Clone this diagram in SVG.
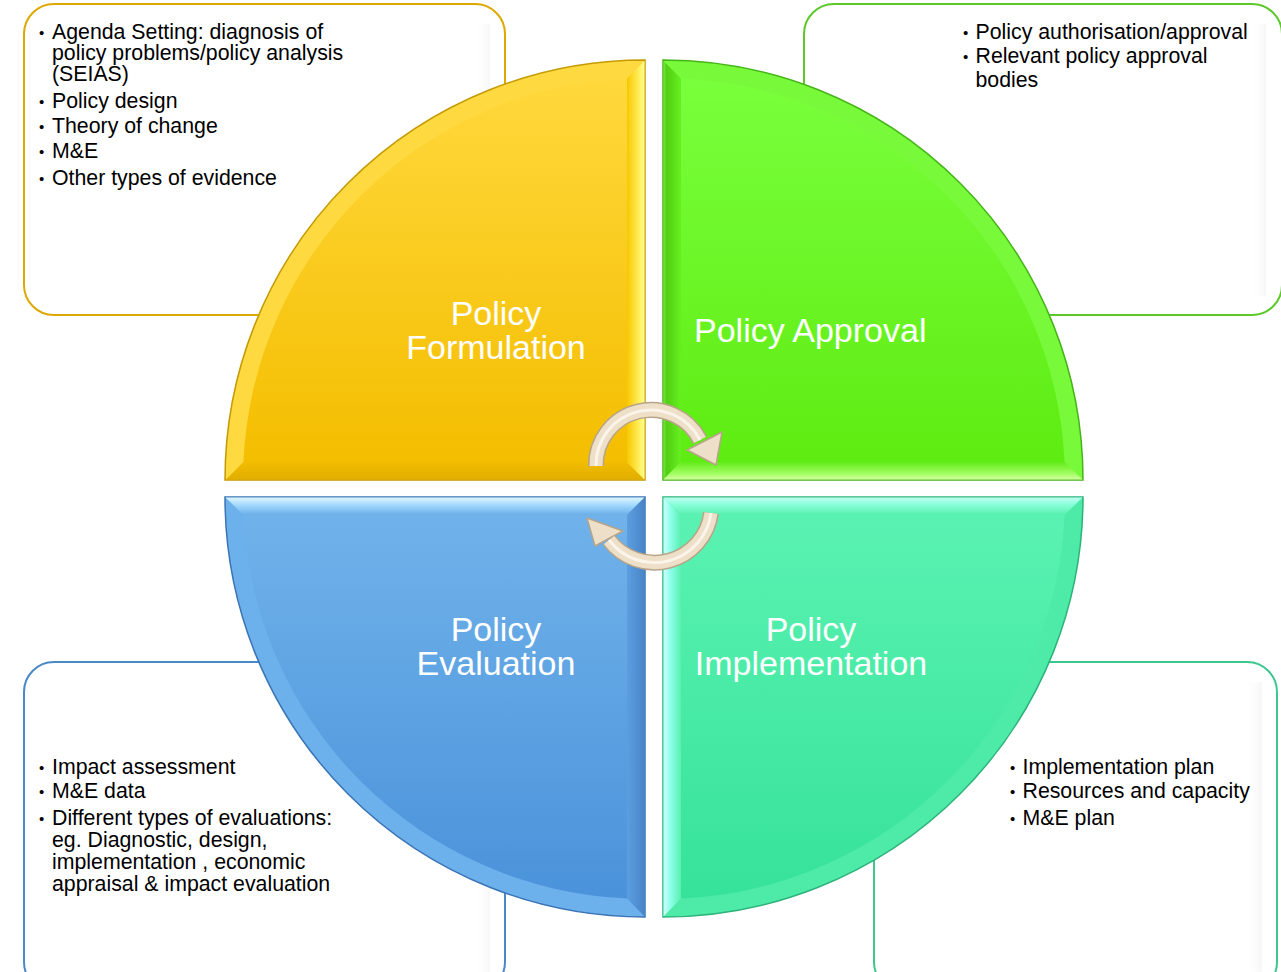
<svg xmlns="http://www.w3.org/2000/svg" width="1281" height="972" viewBox="0 0 1281 972">
<defs>
<linearGradient id="gY" x1="0" y1="0" x2="0" y2="1"><stop offset="0" stop-color="#FFD83C"/><stop offset="1" stop-color="#F4BE00"/></linearGradient>
<linearGradient id="gG" x1="0" y1="0" x2="0" y2="1"><stop offset="0" stop-color="#7AFF3C"/><stop offset="1" stop-color="#5EEC12"/></linearGradient>
<linearGradient id="gT" x1="0" y1="0" x2="0" y2="1"><stop offset="0" stop-color="#5AF2B2"/><stop offset="1" stop-color="#36E29A"/></linearGradient>
<linearGradient id="gB" x1="0" y1="0" x2="0" y2="1"><stop offset="0" stop-color="#70B2EA"/><stop offset="1" stop-color="#4A92DA"/></linearGradient>
<linearGradient id="yR" gradientUnits="userSpaceOnUse" x1="627" y1="0" x2="645" y2="0"><stop offset="0" stop-color="#F8C800"/><stop offset="0.7" stop-color="#FFF060"/><stop offset="1" stop-color="#FFFF9A"/></linearGradient>
<linearGradient id="yB" gradientUnits="userSpaceOnUse" x1="0" y1="462" x2="0" y2="480"><stop offset="0" stop-color="#F2BC00"/><stop offset="1" stop-color="#E0AE00"/></linearGradient>
<linearGradient id="gL" gradientUnits="userSpaceOnUse" x1="681" y1="0" x2="663" y2="0"><stop offset="0" stop-color="#66F020"/><stop offset="0.8" stop-color="#52CF14"/><stop offset="1" stop-color="#7CEB44"/></linearGradient>
<linearGradient id="gBt" gradientUnits="userSpaceOnUse" x1="0" y1="462" x2="0" y2="480"><stop offset="0" stop-color="#62EC18"/><stop offset="0.7" stop-color="#A8FF6A"/><stop offset="1" stop-color="#D8FFA8"/></linearGradient>
<linearGradient id="bT" gradientUnits="userSpaceOnUse" x1="0" y1="515" x2="0" y2="497"><stop offset="0" stop-color="#6AAEE8"/><stop offset="0.6" stop-color="#A8DCFF"/><stop offset="1" stop-color="#E4F8FF"/></linearGradient>
<linearGradient id="bR" gradientUnits="userSpaceOnUse" x1="627" y1="0" x2="645" y2="0"><stop offset="0" stop-color="#5C9EDF"/><stop offset="1" stop-color="#4884C8"/></linearGradient>
<linearGradient id="tT" gradientUnits="userSpaceOnUse" x1="0" y1="515" x2="0" y2="497"><stop offset="0" stop-color="#58F0B0"/><stop offset="0.6" stop-color="#8AFFDA"/><stop offset="1" stop-color="#C4FFF2"/></linearGradient>
<linearGradient id="tL" gradientUnits="userSpaceOnUse" x1="681" y1="0" x2="663" y2="0"><stop offset="0" stop-color="#58F0B0"/><stop offset="0.6" stop-color="#90FFEA"/><stop offset="1" stop-color="#D0FFFF"/></linearGradient>
<linearGradient id="bw" x1="0" y1="0" x2="1" y2="0"><stop offset="0" stop-color="#ffffff" stop-opacity="0"/><stop offset="1" stop-color="#e6e6e6" stop-opacity="1"/></linearGradient>
</defs>
<style>
.box{fill:#ffffff;stroke-width:2}
.txt{font-family:"Liberation Sans",Arial,sans-serif;font-size:21.3px;fill:#000000}
.bul{font-family:"Liberation Sans",Arial,sans-serif;font-size:15px;fill:#000000}
.lbl{font-family:"Liberation Sans",Arial,sans-serif;font-size:34px;fill:#ffffff}
.arr-o{fill:none;stroke:#B8A488;stroke-width:16}
.arr-f{fill:none;stroke:#EEDFC8;stroke-width:13}
.arr-h{fill:none;stroke:#FBF4EA;stroke-width:3}
.head{fill:#EEDFC8;stroke:#B8A488;stroke-width:1.5;stroke-linejoin:round}
.sh{opacity:0.35}
</style>

<g id="box-formulation">
<rect class="box" x="24" y="4" width="481" height="311" rx="30" stroke="#DDA800"/>
<rect class="sh" x="474" y="24" width="16" height="272" fill="url(#bw)"/>
<text class="bul"><tspan x="39" y="38">•</tspan><tspan x="39" y="107">•</tspan><tspan x="39" y="131.5">•</tspan><tspan x="39" y="156.5">•</tspan><tspan x="39" y="184">•</tspan></text>
<text class="txt"><tspan x="52" y="39">Agenda Setting: diagnosis of</tspan><tspan x="52" y="60">policy problems/policy analysis</tspan><tspan x="52" y="81">(SEIAS)</tspan><tspan x="52" y="108">Policy design</tspan><tspan x="52" y="132.5">Theory of change</tspan><tspan x="52" y="157.5">M&amp;E</tspan><tspan x="52" y="185">Other types of evidence</tspan></text>
</g>

<g id="box-approval">
<rect class="box" x="804" y="4" width="478" height="311" rx="30" stroke="#5CC82A"/>
<rect class="sh" x="1250" y="24" width="16" height="272" fill="url(#bw)"/>
<text class="bul"><tspan x="963" y="38">•</tspan><tspan x="963" y="61.5">•</tspan></text>
<text class="txt"><tspan x="975.5" y="39">Policy authorisation/approval</tspan><tspan x="975.5" y="62.5">Relevant policy approval</tspan><tspan x="975.5" y="87">bodies</tspan></text>
</g>

<g id="box-evaluation">
<rect class="box" x="24" y="662" width="481" height="330" rx="30" stroke="#4A88C8"/>
<rect class="sh" x="474" y="682" width="16" height="290" fill="url(#bw)"/>
<text class="bul"><tspan x="39" y="773">•</tspan><tspan x="39" y="796.5">•</tspan><tspan x="39" y="823.5">•</tspan></text>
<text class="txt"><tspan x="52" y="774">Impact assessment</tspan><tspan x="52" y="797.5">M&amp;E data</tspan><tspan x="52" y="824.5">Different types of evaluations:</tspan><tspan x="52" y="846.5">eg. Diagnostic, design,</tspan><tspan x="52" y="868.5">implementation , economic</tspan><tspan x="52" y="890.5">appraisal &amp; impact evaluation</tspan></text>
</g>

<g id="box-implementation">
<rect class="box" x="874" y="662" width="403" height="330" rx="30" stroke="#3CC78E"/>
<rect class="sh" x="1246" y="682" width="16" height="290" fill="url(#bw)"/>
<text class="bul"><tspan x="1010" y="773">•</tspan><tspan x="1010" y="796.5">•</tspan><tspan x="1010" y="823.5">•</tspan></text>
<text class="txt"><tspan x="1022.5" y="774">Implementation plan</tspan><tspan x="1022.5" y="797.5">Resources and capacity</tspan><tspan x="1022.5" y="824.5">M&amp;E plan</tspan></text>
</g>

<g id="quad-formulation">
<path d="M645,480 L225,480 A420,420 0 0 1 645,60 Z" fill="#FFD940" stroke="#C49A00" stroke-width="1.5"/>
<polygon points="226,479.5 644.5,479.5 627,462 243.4,462" fill="url(#yB)"/>
<polygon points="644.5,61 644.5,479.5 627,462 627,78.4" fill="url(#yR)"/>
<path d="M627,462 L243.4,462 A402,402 0 0 1 627,78.4 Z" fill="url(#gY)"/>
<text class="lbl" text-anchor="middle"><tspan x="496" y="325">Policy</tspan><tspan x="496" y="359">Formulation</tspan></text>
</g>

<g id="quad-approval">
<path d="M663,480 L663,60 A420,420 0 0 1 1083,480 Z" fill="#78FA3A" stroke="#46B418" stroke-width="1.5"/>
<polygon points="663.5,61 663.5,479.5 681,462 681,78.4" fill="url(#gL)"/>
<polygon points="663.5,479.5 1082.5,479.5 1064.6,462 681,462" fill="url(#gBt)"/>
<path d="M681,462 L681,78.4 A402,402 0 0 1 1064.6,462 Z" fill="url(#gG)"/>
<text class="lbl" x="694" y="342">Policy Approval</text>
</g>

<g id="quad-implementation">
<path d="M663,497 L1083,497 A420,420 0 0 1 663,917 Z" fill="#4EEAA8" stroke="#2DB27A" stroke-width="1.5"/>
<polygon points="663.5,497.5 1082.5,497.5 1064.6,515 681,515" fill="url(#tT)"/>
<polygon points="663.5,497.5 663.5,916.5 681,898.6 681,515" fill="url(#tL)"/>
<path d="M681,515 L1064.6,515 A402,402 0 0 1 681,898.6 Z" fill="url(#gT)"/>
<text class="lbl" text-anchor="middle"><tspan x="811" y="641">Policy</tspan><tspan x="811" y="675">Implementation</tspan></text>
</g>

<g id="quad-evaluation">
<path d="M645,497 L645,917 A420,420 0 0 1 225,497 Z" fill="#6CB0EC" stroke="#3A74B6" stroke-width="1.5"/>
<polygon points="225.5,497.5 644.5,497.5 627,515 243.4,515" fill="url(#bT)"/>
<polygon points="644.5,497.5 644.5,916.5 627,898.6 627,515" fill="url(#bR)"/>
<path d="M627,515 L627,898.6 A402,402 0 0 1 243.4,515 Z" fill="url(#gB)"/>
<text class="lbl" text-anchor="middle"><tspan x="496" y="641">Policy</tspan><tspan x="496" y="675">Evaluation</tspan></text>
</g>

<g id="connectors">
<path class="arr-o" d="M596,466 A55,55 0 0 1 700,440"/>
<polygon class="head" points="687,450 722,432 716,465"/>
<path class="arr-f" d="M596,466 A55,55 0 0 1 700,440"/>
<path class="arr-h" d="M596,466 A55,55 0 0 1 700,440"/>
<path class="arr-o" d="M711,513 A57,57 0 0 1 609,540"/>
<polygon class="head" points="623,531 587,518 595,546"/>
<path class="arr-f" d="M711,513 A57,57 0 0 1 609,540"/>
<path class="arr-h" d="M711,513 A57,57 0 0 1 609,540"/>
</g>
</svg>
